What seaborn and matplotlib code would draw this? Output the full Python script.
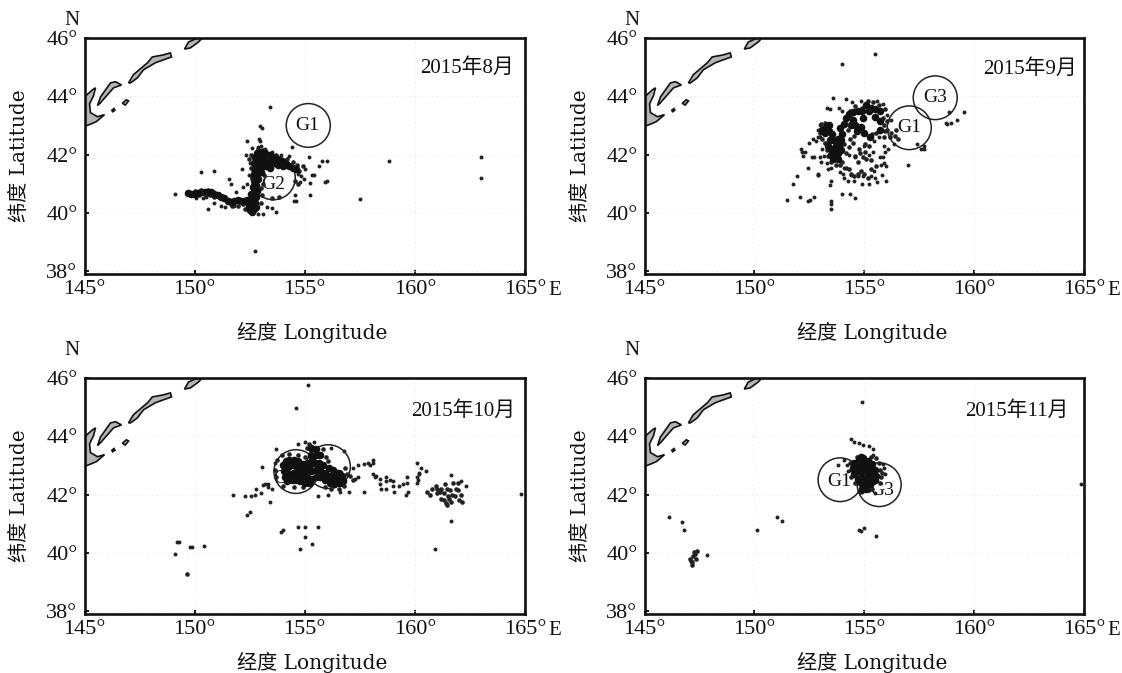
import matplotlib
matplotlib.use("Agg")
import matplotlib.pyplot as plt
from matplotlib.patches import Ellipse, Polygon
import seaborn as sns
import pandas as pd

sns.set_style("white")
LABEL_FONT = ['DejaVu Serif', 'Noto Sans CJK SC']
TICK_FONT = ['Liberation Serif', 'Noto Sans CJK SC']
plt.rcParams['font.family'] = TICK_FONT

months = ["2015年8月", "2015年9月", "2015年10月", "2015年11月"]
xticks = [145, 150, 155, 160, 165]
yticks = [38, 40, 42, 44, 46]
xlabel = "经度 Longitude"
ylabel = "纬度 Latitude"

# coastline (lon, lat)
hokkaido = [(145.0,43.98),(145.36,44.22),(145.5,44.29),(145.41,44.02),(145.23,43.74),(145.27,43.44),(145.59,43.30),(145.91,43.37),(145.54,43.13),(145.09,42.99),(145.0,42.99)]
kunashir = [(145.59,43.68),(145.73,43.98),(146.18,44.46),(146.41,44.50),(146.68,44.39),(146.32,44.29),(146.04,44.05),(145.73,43.78)]
shikotan = [(146.72,43.76),(146.9,43.88),(147.0,43.84),(146.85,43.7)]
dot_isle = [(146.24,43.52),(146.34,43.58),(146.38,43.52),(146.28,43.47)]
iturup = [(147.0,44.46),(147.22,44.74),(147.86,45.15),(148.08,45.35),(148.58,45.42),(148.9,45.49),(148.95,45.35),(148.58,45.25),(148.22,45.15),(147.68,44.91),(147.4,44.63),(147.09,44.46)]
urup = [(149.54,45.62),(149.72,45.86),(150.12,46.0),(150.35,46.0),(150.17,45.86),(149.81,45.66)]
islands = [hokkaido, kunashir, shikotan, dot_isle, iturup, urup]

# circles: centre lon, centre lat, label, label lon, label lat
aug_circles = [(155.16,43.0,"G1",155.12,43.0),(153.57,41.2,"G2",153.55,40.98)]
sep_circles = [(157.05,42.92,"G1",157.05,42.92),(158.23,43.95,"G3",158.23,43.95)]
oct_circles = [(154.6,42.79,"G1",154.1,42.55),(156.07,42.96,"G3",156.3,42.55)]
nov_circles = [(153.9,42.51,"G1",153.85,42.45),(155.68,42.34,"G3",155.8,42.15)]

aug_sparse = [(153.44,43.63),(152.99,42.97),(153.05,42.92),(152.91,42.54),(152.38,42.48),(152.99,42.45),(152.34,41.97),(152.61,42.23),(152.13,41.5),(150.27,41.4),(150.89,41.44),(151.58,41.17),(151.67,41.0),(149.09,40.66),(154.42,42.26),(155.18,41.92),(155.79,41.77),(156.01,41.78),(155.63,41.6),(155.44,41.29),(155.34,41.29),(156.01,41.1),(155.9,41.07),(155.23,41.03),(155.26,40.63),(154.55,40.63),(154.5,40.4),(154.62,40.4),(153.71,40.03),(153.29,40.21),(153.52,40.17),(150.6,40.15),(150.04,40.52),(150.87,40.35),(151.4,40.2),(152.76,38.69),(158.81,41.77),(157.52,40.48),(162.98,41.93),(163.02,41.18),
(154.8,41.05),(154.85,41.25),(154.95,41.15),(154.7,41.35),(155.0,41.5),(152.4,41.0),(152.2,40.9),(151.9,40.7),(151.8,40.25),(151.2,40.25),(150.4,40.5),(150.5,40.55),(152.9,42.25),(153.0,42.3),(153.2,42.2),(153.5,42.1),(153.9,42.0),(154.3,41.95),(152.5,41.7),(152.45,41.3),(153.1,39.95),(152.9,39.95)]
aug_mid = [(152.45,41.85),(152.55,42.0),(152.55,41.55),(152.6,41.2),(153.15,41.3),(153.1,41.0),(153.0,40.85),(153.05,40.6),(153.0,40.35),(152.3,40.15),(152.2,40.3),(151.95,40.25),(151.7,40.25),(150.9,40.55),(150.7,40.6),(150.5,40.62),(150.2,40.6),(149.9,40.6),(150.3,40.78),(150.6,40.8),(150.0,40.75),(154.75,41.45),(154.9,41.6),(154.45,41.75),(154.65,41.65),(154.2,41.85),(153.7,42.0),(153.1,42.15),(152.9,42.2),(154.55,41.1),(154.7,41.0),(153.85,40.55),(153.5,40.5)]
aug_core = [(149.7,40.68),(149.85,40.65),(150.0,40.64),(150.15,40.68),(150.3,40.7),(150.45,40.7),(150.6,40.72),(150.75,40.7),(150.9,40.65),(151.05,40.6),(151.2,40.55),(151.35,40.5),(151.5,40.42),(151.65,40.38),(151.8,40.42),(151.95,40.45),(152.1,40.4),(152.25,40.4),(152.4,40.45),
(152.5,40.1),(152.6,40.03),(152.7,40.12),(152.8,40.2),(152.45,40.25),(152.6,40.25),(152.75,40.35),(152.5,40.45),(152.65,40.5),(152.8,40.55),(152.55,40.65),(152.7,40.72),(152.85,40.75),(152.65,40.9),(152.8,40.95),(152.75,41.1),(152.9,41.15),(152.7,41.3),(152.85,41.35),(153.0,41.4),
(152.75,41.5),(152.9,41.55),(153.05,41.6),(152.7,41.7),(152.85,41.72),(153.0,41.8),(153.15,41.75),(152.75,41.9),(152.9,41.92),(153.05,41.98),(153.2,41.92),(152.85,42.05),(153.0,42.1),(153.2,42.05),(153.4,42.0),(153.55,41.92),(153.7,41.85),(153.85,41.8),(154.0,41.75),(154.15,41.68),(154.3,41.6),(154.45,41.55),(154.6,41.52),(153.4,41.75),(153.6,41.7),(153.8,41.65),(154.0,41.6),(153.25,41.6),(153.4,41.55)]

sep_sparse = [(155.5,45.45),(154.0,45.1),(153.6,43.95),(154.15,43.9),(153.3,43.6),(153.45,43.55),(154.0,43.5),(153.0,43.0),(152.9,42.85),(152.5,42.4),(152.65,42.55),(152.8,42.45),(152.9,42.6),(152.1,42.2),(152.15,42.1),(152.3,42.1),(152.2,41.95),(152.6,41.9),(152.7,41.92),(153.0,41.9),(153.05,41.75),(152.45,41.55),(152.9,41.3),(151.75,41.0),(151.92,41.27),(152.88,41.3),(152.88,41.35),(153.5,41.53),(153.5,41.1),(153.45,40.95),(151.5,40.45),(152.07,40.55),(152.45,40.4),(152.55,40.45),(152.7,40.55),(153.5,40.3),(153.5,40.15),(153.5,40.4),(154.0,40.65),(154.35,40.65),(154.6,40.5),(154.1,41.2),(154.4,41.3),(154.7,41.25),(154.9,41.0),(155.2,41.0),(155.5,41.2),(156.0,41.1),(155.9,41.7),(156.0,41.6),(157.0,41.65),(157.4,42.35),(157.6,42.2),(157.7,42.3),(157.7,42.2),(158.7,43.1),(158.75,43.05),(158.95,43.1),(159.22,43.2),(159.55,43.47),(158.85,43.45),(155.2,42.0),(155.4,42.1),(155.7,41.9),(155.9,42.3),(155.85,41.9),(154.6,41.9),(155.0,42.3),(155.45,42.45),(155.65,42.6),(154.3,42.0),(153.0,42.6),(153.1,42.2),
(153.9,41.4),(154.05,41.35),(154.25,41.1),(154.55,41.1),(155.45,41.45),(155.75,41.65),(155.8,41.3),(155.6,41.05),(155.3,41.25),(154.95,41.25),(154.1,41.55),(155.95,42.1),(156.1,42.2),(156.35,42.35),(156.2,43.2),(156.05,43.35),(155.85,43.75),(155.6,43.85),(154.45,43.8),(154.85,43.85),(153.85,43.6),(153.2,42.4),(153.15,41.95),(153.3,41.7),(153.35,41.5)]
sep_mid = [(153.9,41.65),(154.0,41.75),(154.15,41.55),(154.3,41.5),(154.4,41.35),(154.55,41.25),(154.7,41.35),(154.85,41.45),(155.0,41.35),(155.15,41.2),(155.3,41.5),(155.55,41.6),(154.7,41.75),(154.6,41.95),(154.8,42.05),(154.95,41.9),(155.1,41.85),(155.3,41.8),(155.05,42.1),(154.75,42.2),(155.05,42.35),(155.2,42.3),(154.3,42.25),(154.5,42.4),(154.35,42.55),(154.55,42.65),(154.25,42.85),(155.35,42.7),(155.55,42.75),(155.9,42.6),(155.95,42.8),(155.9,43.0),(156.05,42.85),(156.2,42.75),(156.4,42.65),(156.55,42.55),(156.45,42.85),(156.15,42.6),(156.05,43.15),(155.85,43.25),(155.95,43.55),(155.65,43.7),(155.4,43.8),(155.15,43.85),(154.9,43.6),(154.6,43.65),(154.35,43.5),(153.2,43.1),(153.05,43.05),(153.0,42.75),(153.1,42.55),(153.2,42.4),(153.3,42.15),(153.35,41.95),(153.5,41.75),(153.7,41.65),(154.15,42.05),(154.1,42.35)]
sep_core = [(153.1,42.85),(153.25,42.95),(153.4,43.0),(153.2,42.75),(153.4,42.8),(153.55,42.7),(153.45,42.5),(153.6,42.5),(153.8,42.55),(153.35,42.3),(153.5,42.2),(153.7,42.3),(153.85,42.3),(153.5,42.0),(153.65,42.05),(153.8,42.05),(153.95,42.15),(153.6,41.85),(153.8,41.85),(153.95,42.5),(154.0,42.7),(153.9,42.9),(154.1,43.05),(154.15,43.25),(154.3,43.4),(154.5,43.2),(154.6,43.0),(154.65,42.8),(154.4,43.0),(154.5,43.45),(154.7,43.5),(154.9,43.5),(155.1,43.7),(155.3,43.6),(155.5,43.55),(155.2,43.5),(155.7,43.5),(155.5,43.3),(155.7,43.15),(155.7,42.85),(155.25,42.6),(155.0,42.75),(154.85,42.95),(154.95,43.25)]

oct_sparse = [(149.22,40.36),(149.3,40.38),(149.13,39.95),(149.78,40.19),(149.88,40.21),(150.44,40.25),(154.0,40.8),(154.7,40.9),(155.02,40.9),(155.0,40.56),(155.6,40.9),(153.93,40.72),(154.8,40.12),(155.34,40.29),(154.62,44.97),(155.16,45.76),(160.92,40.12),(161.65,41.08),(164.82,42.03),(152.38,41.31),(152.53,41.39),(151.74,41.97),(152.27,41.94),(152.55,41.95),(152.72,42.0),(152.8,42.2),(153.1,42.33),(153.2,42.35),(153.0,42.05),(153.35,42.25),(153.5,42.2),(153.35,42.35),(153.4,41.75),(153.65,43.1),(153.05,42.95),(153.7,43.55),(154.7,43.75),(155.0,43.8),(155.4,43.8),(156.2,43.6),(156.8,43.5),(155.6,41.95),(156.05,42.0),(156.6,42.1),(157.0,42.1),(157.7,42.1),(157.3,42.55),(157.4,42.6),(157.2,42.9),(157.4,43.0),(157.7,43.05),(157.85,43.1),(158.1,43.2),(158.1,43.1),(157.95,43.0),(158.1,42.7),(158.25,42.65),(158.4,42.55),(158.2,42.6),(158.4,42.35),(158.45,42.2),(158.7,42.62),(158.7,42.45),(158.85,42.5),(159.0,42.45),(158.7,42.2),(159.05,42.1),(159.0,42.3),(159.3,42.3),(159.45,42.35),(159.65,42.4),(159.65,42.6),(159.7,42.1),(159.6,42.0),(160.1,42.4),(160.15,42.5),(160.2,42.7),(160.1,43.1),(160.3,42.9),(160.2,42.75),(160.5,42.8),(160.1,42.6),(161.65,42.66),(162.3,42.3),(162.1,42.45)]
oct_mid = [(160.55,42.1),(160.7,42.0),(160.8,42.2),(160.95,42.3),(161.0,42.05),(161.15,42.1),(161.2,41.85),(161.35,42.35),(161.45,42.2),(161.5,41.95),(161.3,41.8),(161.4,41.7),(161.65,41.75),(161.8,41.95),(161.75,42.4),(161.95,42.4),(161.95,42.15),(162.0,41.8),(162.15,41.75),(162.1,42.0),(161.6,42.15),(161.3,42.05),(161.55,41.85),(161.85,42.2),(161.0,42.2),(161.2,42.2),(161.45,41.65),(161.7,42.0),
(149.67,39.26),(153.7,42.6),(153.65,42.85),(153.75,43.2),(153.95,43.35),(154.3,43.4),(154.7,43.35),(155.0,43.3),(156.85,42.9),(156.9,42.7),(156.8,42.3),(156.55,42.2),(156.2,42.2),(155.9,42.25),(154.9,42.25),(154.5,42.25),(154.0,42.3),(157.2,42.5),(157.05,42.65),(155.1,43.6),(155.2,43.75),(155.85,43.55),(155.95,43.3),(156.05,43.15)]
oct_core = [(154.0,43.0),(154.15,43.15),(154.3,43.2),(154.5,43.2),(154.7,43.15),(154.9,43.05),(154.05,42.8),(154.25,42.95),(154.45,43.0),(154.65,42.95),(154.85,42.85),(155.05,42.85),(154.1,42.6),(154.3,42.7),(154.5,42.75),(154.7,42.7),(154.9,42.65),(155.1,42.6),(154.4,42.5),(154.6,42.5),(154.8,42.45),(155.0,42.4),(155.25,43.0),(155.3,42.8),(155.3,42.55),(155.35,43.2),(155.3,43.35),(155.5,43.35),(155.7,43.35),(155.45,43.1),(155.65,43.1),(155.5,42.85),(155.7,42.85),(155.5,42.6),(155.7,42.6),(155.9,42.75),(156.1,42.9),(156.3,42.85),(156.5,42.75),(156.7,42.65),(155.9,42.5),(156.1,42.65),(156.3,42.6),(156.5,42.5),(156.15,42.4),(156.35,42.35),(156.6,42.4),(156.75,42.45),(155.3,43.6),(155.5,43.55),(155.2,42.4),(155.85,43.0),(155.1,43.1),(154.2,42.45)]

nov_sparse = [(154.9,45.17),(164.85,42.35),(146.1,41.23),(146.7,41.07),(146.8,40.8),(147.85,39.92),(150.1,40.8),(151.05,41.22),(151.25,41.1),(154.4,43.9),(154.55,43.82),(154.78,43.76),(154.95,43.7),(155.23,43.65),(155.4,43.55),(155.41,43.36),(154.1,43.2),(153.8,43.0),(154.2,43.0),(154.25,42.8),(155.85,43.05),(155.9,42.9),(155.95,42.7),(154.85,40.75),(155.0,40.85),(154.75,40.8),(155.55,40.58),(155.5,42.05),(154.9,42.1)]
nov_mid = [(154.35,43.1),(154.4,42.85),(154.4,42.6),(154.6,42.4),(155.7,42.4),(155.75,42.6),(155.7,42.85),(155.65,43.1),(155.55,43.25),(155.3,43.3),(154.65,43.3),(154.8,42.1),(155.2,42.15),(155.35,42.2),(155.8,42.75),
(147.25,40.03),(147.4,40.05),(147.2,39.9),(147.05,39.8),(147.18,39.7),(147.35,39.8),(147.15,39.6),(147.1,39.72),(147.28,39.95)]
nov_core = [(154.55,43.1),(154.75,43.2),(154.95,43.25),(155.15,43.15),(155.35,43.05),(154.5,42.9),(154.7,43.0),(154.9,43.05),(155.1,42.95),(155.3,42.9),(155.5,42.85),(154.55,42.7),(154.75,42.8),(154.95,42.85),(155.15,42.75),(155.35,42.7),(155.55,42.65),(154.7,42.55),(154.9,42.6),(155.1,42.55),(155.3,42.5),(155.5,42.5),(154.85,42.4),(155.05,42.35),(155.25,42.35),(155.4,42.45),(154.9,42.2),(155.1,42.2),(154.85,43.3)]

sparse_sets = [aug_sparse, sep_sparse, oct_sparse, nov_sparse]
mid_sets = [aug_mid, sep_mid, oct_mid, nov_mid]
core_sets = [aug_core, sep_core, oct_core, nov_core]
circle_sets = [aug_circles, sep_circles, oct_circles, nov_circles]
month_pos = [(160.25,44.97), (160.4,44.92), (159.85,44.88), (159.6,44.88)]
xlabel_gap = [58.5, 58.5, 48.5, 48.5]
n_lat = [46.6, 46.6, 46.95, 46.95]

DOT = "#222222"
GRID = "#e8e8e8"
W, H = 1122, 673
boxes = [(84.5,38,525,273.5),(644.5,38,1084,273.5),(84.5,378,525,613.5),(644.5,378,1084,613.5)]

fig = plt.figure(figsize=(W/100, H/100), dpi=100, facecolor="white")

for i, (l,t,r,b) in enumerate(boxes):
    ax = fig.add_axes([l/W, 1-b/H, (r-l)/W, (b-t)/H])
    ax.set_xlim(145, 165)
    ax.set_ylim(37.92, 46)
    ax.set_xticks(xticks)
    ax.set_yticks(yticks)
    ax.set_xticklabels([f"{v}°" for v in xticks], fontsize=16)
    ax.set_yticklabels([f"{v}°" for v in yticks], fontsize=16)
    ax.tick_params(direction="in", length=3, width=1.3, color="black", pad=5,
                   bottom=True, left=True, labelcolor="#111111")
    ax.grid(True, color=GRID, linestyle=(0,(1,3)), linewidth=0.8)
    ax.set_axisbelow(True)
    for s in ax.spines.values():
        s.set_linewidth(1.9)
        s.set_color("#111111")

    for poly in islands:
        ax.add_patch(Polygon(poly, closed=True, facecolor="#b5b5b5", edgecolor="#111111",
                             linewidth=1.2, zorder=2))

    for cx, cy, lab, lx, ly in circle_sets[i]:
        ax.add_patch(Ellipse((cx, cy), 2.0, 1.5, fill=False, edgecolor="#222222", linewidth=1.1, zorder=3))
        ax.text(lx, ly, lab, ha="center", va="center", fontsize=14, color="#111111", zorder=2.5)

    sp = pd.DataFrame(sparse_sets[i], columns=["lon", "lat"])
    mi = pd.DataFrame(mid_sets[i], columns=["lon", "lat"])
    co = pd.DataFrame(core_sets[i], columns=["lon", "lat"])
    sns.scatterplot(data=sp, x="lon", y="lat", ax=ax, s=8, color=DOT, linewidth=0, zorder=4, legend=False)
    sns.scatterplot(data=mi, x="lon", y="lat", ax=ax, s=11, color=DOT, linewidth=0, zorder=4, legend=False)
    sns.scatterplot(data=co, x="lon", y="lat", ax=ax, s=30, color="#111111", linewidth=0, zorder=4, legend=False)

    ax.set_xlabel(xlabel, fontsize=14.5, fontfamily=LABEL_FONT, color="#111111", va="center")
    ax.set_ylabel(ylabel, fontsize=14.5, fontfamily=LABEL_FONT, color="#111111", va="center")
    ax.xaxis.set_label_coords(0.518, -xlabel_gap[i]/235.5)
    ax.yaxis.set_label_coords((20-84.5)/440, 0.5)
    ax.text(month_pos[i][0], month_pos[i][1], months[i], fontsize=15, ha="left", va="center", color="#111111", zorder=5)
    ax.text(144.45, n_lat[i], "N", fontsize=15, ha="center", va="center", color="#111111", clip_on=False)
    ax.text(166.35, 37.35, "E", fontsize=15, ha="center", va="center", color="#111111", clip_on=False)

fig.savefig("out.png", dpi=100, facecolor="white")
